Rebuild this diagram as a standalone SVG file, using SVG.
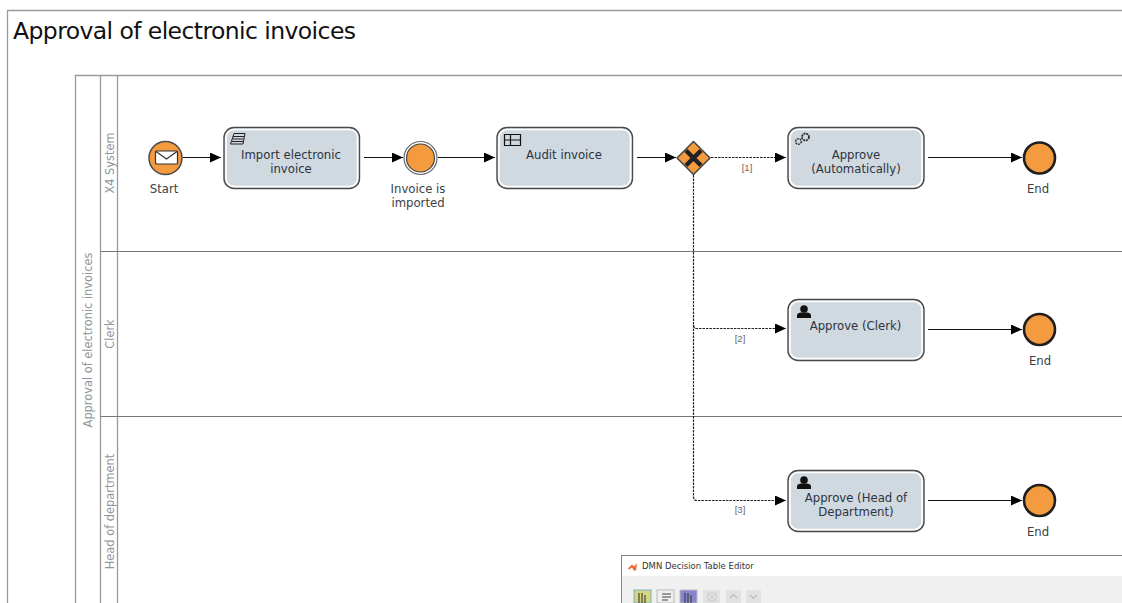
<svg xmlns="http://www.w3.org/2000/svg" width="1122" height="603" viewBox="0 0 1122 603">
<style>
text{font-family:"DejaVu Sans","Liberation Sans",sans-serif}
.t{font-size:11.700px;fill:#2c3440;text-anchor:middle}
.l{font-size:11.700px;fill:#3c4048;text-anchor:middle}
.s{font-family:"Liberation Sans",sans-serif;font-size:9.500px;fill:#666;text-anchor:middle}
.v{font-size:11.400px;fill:#8f959c;text-anchor:middle}
.frame{fill:none;stroke:#9a9a9a;stroke-width:1.300}
.sep{fill:none;stroke:#777;stroke-width:1}
.task{fill:#d0d8e0;stroke:#4a4a4a;stroke-width:1.400}
.inner{fill:none;stroke:#fff;stroke-width:1.600}
.flow{fill:none;stroke:#111;stroke-width:1.200;marker-end:url(#a)}
.dash{fill:none;stroke:#222;stroke-width:1.200;stroke-dasharray:2.500 1;marker-end:url(#a)}
.end{fill:#f39b3e;stroke:#1f1f1f;stroke-width:2.600}
</style>
<defs><marker id="a" markerUnits="userSpaceOnUse" markerWidth="12" markerHeight="10" refX="11" refY="5" orient="auto"><path d="M0 0L11 5L0 10z" fill="#000"/></marker>
<g id="user"><circle cx="804" cy="0" r="3.800" fill="#111"/><path d="M797 9v-2.500q0-2.500 3.500-3h7q3.500 .5 3.500 3v2.500z" fill="#111"/></g></defs>
<rect width="1122" height="603" fill="#fff"/>
<g id="frame">
<path class="frame" d="M1122 10.500H7.500V603"/>
<text x="13" y="39" font-size="23.500" fill="#111" textLength="343">Approval of electronic invoices</text>
</g>
<g id="pool">
<path class="frame" d="M1122 75.500H75.500V603M100.500 75.500V603M117.500 75.500V603"/>
<path class="sep" d="M100.500 251.500H1122M100.500 416.500H1122"/>
<text class="v" transform="translate(92 340) rotate(-90)">Approval of electronic invoices</text>
<text class="v" transform="translate(114 163) rotate(-90)">X4 System</text>
<text class="v" transform="translate(114 334) rotate(-90)">Clerk</text>
<text class="v" transform="translate(114 511.500) rotate(-90)">Head of department</text>
</g>
<g id="connectors">
<path class="flow" d="M183 157.500H221"/>
<path class="flow" d="M364 157.500H403"/>
<path class="flow" d="M438 157.500H495"/>
<path class="flow" d="M637 157.500H676"/>
<path class="dash" d="M711 157.500H786"/>
<path class="flow" d="M928 157.500H1022"/>
<path class="dash" d="M693.500 175V325q0 3.500 3.500 3.500H786"/>
<path class="dash" d="M693.500 325V497q0 3.500 3.500 3.500H786"/>
<path class="flow" d="M928 329.500H1022"/>
<path class="flow" d="M928 500.500H1022"/>
<text class="s" x="747" y="171">[1]</text>
<text class="s" x="740" y="342">[2]</text>
<text class="s" x="740" y="513">[3]</text>
</g>
<g id="start">
<circle cx="165.500" cy="158" r="16.500" fill="#f39b3e" stroke="#4a4a4a" stroke-width="1.500"/>
<rect x="155.500" y="151" width="22" height="13" rx="1" fill="#fff" stroke="#333" stroke-width="1.200"/>
<path d="M156 151.500L166.500 159L177 151.500" fill="none" stroke="#333" stroke-width="1.200"/>
<text class="l" x="164" y="193">Start</text>
</g>
<g id="import">
<rect class="task" x="224" y="127.500" width="135.500" height="61" rx="10"/>
<rect class="inner" x="226" y="129.500" width="131.500" height="57" rx="8"/>
<path d="M234 133.500h11l-2 10.500h-12.500zM233 136.500h11M232.500 139h11M232 141.500h11" fill="none" stroke="#222" stroke-width="1"/>
<text class="t" x="291" y="159">Import electronic</text>
<text class="t" x="291" y="173">invoice</text>
</g>
<g id="imported">
<circle cx="420.500" cy="158" r="16.500" fill="#fff" stroke="#666" stroke-width="1.200"/>
<circle cx="420.500" cy="158" r="14" fill="#f39b3e" stroke="#444" stroke-width="1.200"/>
<text class="l" x="418" y="193">Invoice is</text>
<text class="l" x="418" y="207">imported</text>
</g>
<g id="audit">
<rect class="task" x="497" y="127.500" width="135.500" height="61" rx="10"/>
<rect class="inner" x="499" y="129.500" width="131.500" height="57" rx="8"/>
<path d="M504.500 134.500h16v11h-16zM504.500 140h16M510.500 134.500v11" fill="none" stroke="#111" stroke-width="1.200"/>
<text class="t" x="564" y="159">Audit invoice</text>
</g>
<g id="gateway">
<path d="M693.500 141.500L710 158L693.500 174.500L677 158z" fill="#f39b3e" stroke="#444" stroke-width="1.500" stroke-linejoin="round"/>
<path d="M686 150.500L701 165.500M701 150.500L686 165.500" fill="none" stroke="#222" stroke-width="4.500"/>
</g>
<g id="auto">
<rect class="task" x="788" y="127.500" width="136" height="61" rx="10"/>
<rect class="inner" x="790" y="129.500" width="132" height="57" rx="8"/>
<circle cx="805.500" cy="137" r="3.500" fill="none" stroke="#333" stroke-width="1.800" stroke-dasharray="2 .8"/>
<circle cx="798.500" cy="141.500" r="2.800" fill="none" stroke="#333" stroke-width="1.500" stroke-dasharray="2 .8"/>
<text class="t" x="856" y="159">Approve</text>
<text class="t" x="856" y="173">(Automatically)</text>
</g>
<g id="end1"><circle class="end" cx="1039.500" cy="158" r="15.500"/><text class="l" x="1038" y="193">End</text></g>
<g id="clerk">
<rect class="task" x="788" y="299.500" width="136" height="61" rx="10"/>
<rect class="inner" x="790" y="301.500" width="132" height="57" rx="8"/>
<use href="#user" y="309"/>
<text class="t" x="855.500" y="330">Approve (Clerk)</text>
</g>
<g id="end2"><circle class="end" cx="1039.500" cy="329.500" r="15.500"/><text class="l" x="1040" y="365">End</text></g>
<g id="head">
<rect class="task" x="788" y="470.500" width="136" height="61" rx="10"/>
<rect class="inner" x="790" y="472.500" width="132" height="57" rx="8"/>
<use href="#user" y="480"/>
<text class="t" x="856" y="502">Approve (Head of</text>
<text class="t" x="856" y="516">Department)</text>
</g>
<g id="end3"><circle class="end" cx="1039.500" cy="500.500" r="15.500"/><text class="l" x="1038" y="536">End</text></g>
<g id="dmn">
<rect x="621.500" y="555.500" width="501" height="48" fill="#fff" stroke="#7d8790"/>
<rect x="622" y="576" width="500" height="27" fill="#f0f0f0"/>
<path d="M628 568.500l4-4 2 2 3-3-1 7h-2l-2-3-3 2z" fill="#e8672a"/>
<text x="642" y="569" font-size="8.500" fill="#333">DMN Decision Table Editor</text>
<rect x="634" y="590" width="17" height="13" fill="#d6d67e" stroke="#7fb0d0"/>
<rect x="657" y="590" width="17" height="13" fill="#efefef" stroke="#bbb"/>
<rect x="680" y="590" width="17" height="13" fill="#8585cf" stroke="#bbb"/>
<rect x="703" y="590" width="17" height="13" fill="#e2e2e2"/>
<rect x="726" y="590" width="15" height="13" fill="#e2e2e2"/>
<rect x="746" y="590" width="15" height="13" fill="#e2e2e2"/>
<path d="M639 603v-10M642 603v-10M645 603v-8M662 594h9M662 597h9M662 600h6M685 603v-10M688 603v-10M691 603v-8" stroke="#444" stroke-width="1.200" fill="none"/>
<path d="M708 593h8v8h-8zM708 593l8 8M716 593l-8 8" stroke="#ccc" fill="none"/>
<path d="M730 598l3.500-3.500 3.500 3.500M750 595l3.500 3.500 3.500-3.500" stroke="#bbb" stroke-width="1.200" fill="none"/>
</g>
</svg>
